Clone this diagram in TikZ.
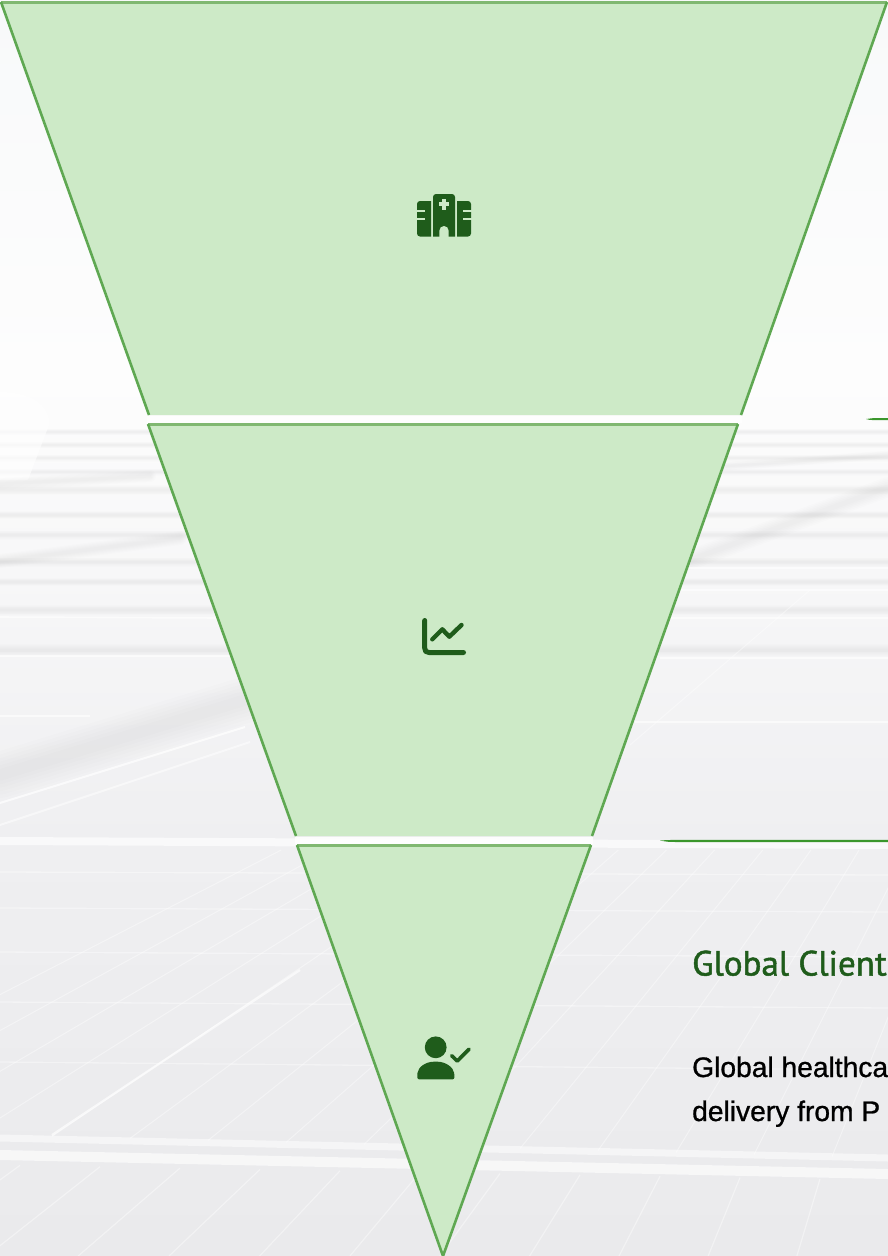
\documentclass[tikz,border=0pt]{standalone}
\usepackage{fontspec}
\setmainfont{Liberation Sans}
\newfontfamily\titlefont{PT Sans}
\definecolor{tfill}{HTML}{CDEAC7}
\definecolor{tedge}{HTML}{5FA852}
\definecolor{ttop}{HTML}{80B871}
\definecolor{icon}{HTML}{1F5C1B}
\definecolor{accent}{HTML}{3A962C}
\definecolor{bgA}{HTML}{F8F9FA}
\definecolor{bgB}{HTML}{FDFDFD}
\definecolor{bgC}{HTML}{EFEFF1}
\definecolor{bgD}{HTML}{EAEAEC}
\tikzset{
  funnelfill/.style={fill=tfill,draw=none},
  funnelside/.style={draw=tedge,line width=2.6pt,line cap=butt},
  funneltop/.style={draw=ttop,line width=3pt,line cap=butt},
  gap/.style={fill=white,fill opacity=.88,draw=none},
  iconline/.style={draw=icon,line cap=round,line join=round},
  gridline/.style={draw=white,line width=1pt,opacity=.4},
  rowline/.style={draw=white,line width=1.6pt,opacity=.6},
  softdark/.style={draw=black,opacity=.007,line cap=round},
  accentbar/.style={fill=accent,draw=none},
  heading/.style={anchor=base west,inner sep=0pt,text=icon,font=\titlefont\fontsize{35}{40}\selectfont\addfontfeature{FakeBold=1.4}},
  bodytext/.style={anchor=base west,inner sep=0pt,text=black,font=\fontsize{28.2}{34}\selectfont\addfontfeature{FakeBold=0.9}},
}
\newcommand{\softband}[5]{% x1,y1,x2,y2,width
  \foreach \f in {1,.85,.7,.55,.4,.25}{
    \draw[softdark,line width=\f*#5 pt] (#1,#2) -- (#3,#4);
  }
}
\begin{document}
\begin{tikzpicture}[x=1pt,y=-1pt]
\useasboundingbox (0,0) rectangle (888,1256);
\clip (0,0) rectangle (888,1256);
% faded photograph behind the funnel
\fill[top color=bgA,bottom color=bgB] (0,0) rectangle (888,380);
\fill[top color=bgB,bottom color=bgC] (0,380) rectangle (888,840);
\fill[top color=bgC,bottom color=bgD] (0,840) rectangle (888,1256);
% distant roof rows
\foreach \y/\w in {432/6,445/6,458/7,472/7,490/10,515/8,535/9,562/9,582/8,610/10,650/12}{
  \softband{0}{\y}{888}{\y}{\w}
}
\fill[white,opacity=.6] (0,392) .. controls (30,392) and (50,405) .. (49,425) -- (28,480) -- (0,480) -- cycle;
\softband{0}{484}{150}{476}{12}
\softband{0}{561}{180}{538}{14}
\softband{0}{775}{245}{700}{46}
\softband{690}{560}{888}{487}{20}
\softband{700}{468}{888}{455}{9}
\draw[white,line width=2pt,opacity=.7] (0,803) -- (245,727);
\draw[white,line width=2pt,opacity=.5] (0,825) -- (250,742);
\draw[rowline] (0,617) -- (220,618);
\draw[rowline] (0,656) -- (240,656);
\draw[rowline] (0,716) -- (90,716);
\draw[rowline] (660,568) -- (888,568);
\draw[rowline] (680,590) -- (888,590);
\draw[rowline] (670,618) -- (888,618);
\draw[rowline] (660,658) -- (888,658);
\draw[rowline,line width=2.2pt] (635,722) -- (888,722);
\draw[gridline] (630,745) -- (810,590);
% near panels
\foreach \k in {0,...,16}{
  \pgfmathsetmacro{\fx}{-260+78*\k}
  \pgfmathsetmacro{\sl}{max(0.35,1.55-0.00135*\fx)}
  \pgfmathsetmacro{\ty}{850}
  \pgfmathsetmacro{\tx}{\fx+285*\sl}
  \draw[gridline] (\fx,1135+\fx*0.026) -- (\tx,\ty);
}
\draw[white,line width=2.2pt,opacity=.65] (52,1135) -- (300,970);
\foreach \k in {0,...,10}{
  \pgfmathsetmacro{\gx}{20+80*\k}
  \pgfmathsetmacro{\gs}{max(0.3,1.4-0.00135*\gx)}
  \pgfmathsetmacro{\gy}{1165+\gx*0.017}
  \pgfmathsetmacro{\hx}{\gx-(1256-\gy)*\gs}
  \draw[gridline,line width=1.2pt] (\gx,\gy) -- (\hx,1256);
}
\foreach \y/\d in {872/3,908/4,952/5,1002/6,1062/8}{
  \draw[gridline,line width=1.3pt] (0,\y) -- (888,\y+\d);
}
\draw[white,line width=8pt,opacity=.65] (0,841) -- (888,845);
\draw[white,line width=7pt,opacity=.5] (0,1138) -- (888,1158);
\draw[white,line width=10pt,opacity=.6] (0,1155) -- (888,1174);
% funnel
\fill[funnelfill] (1,1) -- (887,1) -- (741,415) -- (149,415) -- cycle;
\fill[funnelfill] (148,424) -- (738,424) -- (592,836) -- (296,836) -- cycle;
\fill[funnelfill] (297,845) -- (591,845) -- (443,1256) -- cycle;
\fill[gap] (147,416) rectangle (742,423);
\fill[gap] (295,837) rectangle (593,844);
\draw[funneltop] (1,2.5) -- (887,2.5);
\draw[funneltop] (148,424.5) -- (738,424.5);
\draw[funneltop] (297,845.5) -- (591,845.5);
\draw[funnelside] (1,2) -- (149,415);
\draw[funnelside] (887,2) -- (741,415);
\draw[funnelside] (148,424) -- (296,836);
\draw[funnelside] (738,424) -- (592,836);
\draw[funnelside] (297,845) -- (443,1256) -- (591,845);
% accent bars
\fill[accentbar] (866,419) .. controls (872,418) .. (888,418) -- (888,420) -- (872,420) .. controls (870,420) .. (866,419) -- cycle;
\fill[accentbar] (660,840.5) .. controls (668,840) .. (680,839.8) -- (888,839.8) -- (888,842) -- (680,842) .. controls (668,842) .. (660,840.5) -- cycle;
% hospital icon
\fill[icon] (431,201) [rounded corners=3pt] -- (417,201) -- (417,236.5) [sharp corners] -- (431,236.5) -- cycle;
\fill[icon] (457,201) [rounded corners=3pt] -- (471,201) -- (471,236.5) [sharp corners] -- (457,236.5) -- cycle;
\fill[icon] (433,236.5) [rounded corners=3pt] -- (433,194) -- (455,194) [sharp corners] -- (455,236.5) -- cycle;
\fill[tfill] (416,210.2) rectangle (425,211.8);
\fill[tfill] (416,218.2) rectangle (425,219.8);
\fill[tfill] (463,210.2) rectangle (472,211.8);
\fill[tfill] (463,218.2) rectangle (472,219.8);
\fill[tfill] (442.1,198.6) rectangle (445.9,209.6);
\fill[tfill] (438.6,202.2) rectangle (449.4,206);
\fill[tfill] (439.4,237) -- (439.4,230.6) arc[start angle=180,end angle=360,radius=4.6] -- (448.6,237) -- cycle;
% chart icon
\draw[iconline,line width=5pt] (424.7,620.5) -- (424.7,648) .. controls (424.7,651) and (426,652.5) .. (429,652.5) -- (463.5,652.5);
\draw[iconline,line width=4.4pt] (432.3,639.3) -- (442.3,629.3) -- (449.3,636.7) -- (461.5,625);
% person icon
\fill[icon] (435.7,1047.3) circle[radius=10.9];
\fill[icon,rounded corners=2pt] (417.3,1079.4) -- (417.3,1075) .. controls (418,1067) and (426,1061.7) .. (435.7,1061.7) .. controls (445,1061.7) and (453.5,1067) .. (454.4,1075) -- (454.4,1079.4) -- cycle;
\draw[iconline,line width=3.6pt] (451.7,1055.7) -- (457.3,1061) -- (469,1049.2);
% text, cut by the page edge
\node[heading] (title) at (692,975.5) {Global Client};
\node[bodytext] (lineA) at (692,1077) {Global healthca};
\node[bodytext] (lineB) at (692,1121) {delivery from P};
\end{tikzpicture}
\end{document}
